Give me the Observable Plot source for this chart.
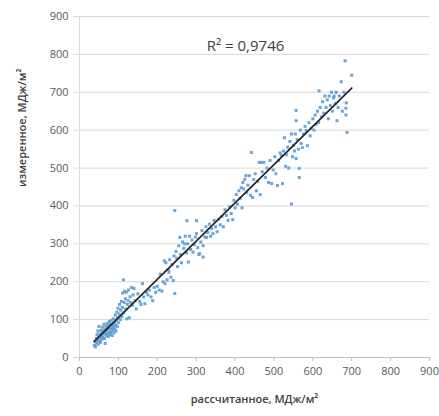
<!DOCTYPE html>
<html>
<head>
<meta charset="utf-8">
<script src="https://cdn.jsdelivr.net/npm/d3@7"></script>
<script src="https://cdn.jsdelivr.net/npm/@observablehq/plot@0.6"></script>
<style>
  html, body { margin: 0; padding: 0; background: #fff; }
  #chart svg { display: block; }
</style>
</head>
<body>
<div id="chart"></div>
<script>
// Tick labels
const xTicks = [0, 100, 200, 300, 400, 500, 600, 700, 800, 900];
const yTicks = [0, 100, 200, 300, 400, 500, 600, 700, 800, 900];
const xLabel = "рассчитанное, МДж/м²";
const yLabel = "измеренное, МДж/м²";
const r2Label = "R² = 0,9746";

// Calculated (x) values
const calc = [
  38,40,41,43,44,45,46,47,48,49,50,51,52,53,54,55,56,57,58,59,60,61,62,63,64,65,66,67,68,69,70,71,72,73,74,75,76,77,78,79,80,81,82,83,84,85,86,87,88,89,90,91,92,93,94,95,96,97,98,99,100,
  102,103,105,106,108,109,110,111,113,114,115,116,118,119,120,122,123,125,126,128,130,132,134,136,138,140,143,146,150,155,158,162,165,168,172,176,180,184,188,192,196,200,
  205,208,212,215,218,220,222,225,228,230,232,235,238,241,243,245,245,248,250,252,255,258,260,262,265,268,270,272,275,276,278,280,283,286,289,292,295,298,301,301,304,307,309,312,315,318,318,
  322,325,327,330,334,337,340,343,346,350,354,358,362,366,370,374,378,382,386,390,394,397,400,403,406,410,413,416,418,
  420,422,425,428,430,433,437,440,442,445,448,452,455,458,462,465,468,470,474,478,482,486,490,494,498,502,505,509,512,516,519,522,
  525,527,530,532,535,538,541,545,545,548,550,553,555,557,557,557,560,563,565,565,568,570,573,576,580,583,586,590,593,596,600,603,606,608,
  612,615,616,619,622,625,628,631,634,637,640,642,645,648,650,653,655,658,660,662,665,668,673,676,680,683,685,685,686,688,700
];
// Measured (y) values
const meas = [
  32,42,28,50,38,60,45,70,35,52,82,44,62,55,40,72,58,48,66,80,54,70,62,88,50,75,37,65,82,58,72,90,62,78,55,85,68,95,60,75,88,66,98,78,58,85,72,102,80,65,92,75,112,85,70,98,120,82,105,130,92,
  115,140,100,125,148,108,132,170,205,118,145,175,155,128,172,102,140,150,178,105,160,145,185,138,165,182,150,128,168,148,140,195,160,142,172,165,178,160,150,185,172,188,
  178,220,175,200,255,195,250,205,232,225,258,212,245,203,268,169,388,280,262,240,295,317,272,250,305,288,300,320,276,361,300,252,320,285,310,278,298,318,361,327,290,272,274,305,335,295,265,
  318,345,317,330,352,320,340,327,362,345,332,365,350,372,345,390,375,362,398,380,364,415,395,430,405,440,420,448,395,
  462,445,470,480,435,455,480,428,541,422,470,485,440,465,515,430,515,490,515,475,500,462,520,459,495,530,485,454,520,540,533,459,
  545,580,505,535,555,500,570,405,590,530,560,545,590,525,625,652,575,550,475,499,600,565,554,590,610,599,559,620,585,605,630,600,640,615,
  650,620,704,660,635,675,645,690,660,680,630,690,665,700,650,685,690,670,700,625,660,690,728,650,700,783,640,658,672,594,745
];

const data = calc.map((c, i) => ({calc: c, meas: meas[i]}));

const font = "'Open Sans', 'Liberation Sans', sans-serif";

const chart = Plot.plot({
  width: 439,
  height: 416,
  marginLeft: 79,
  marginRight: 10,
  marginTop: 16,
  marginBottom: 59,
  style: {fontFamily: font, background: "#fff"},
  x: {domain: [0, 900], axis: null},
  y: {domain: [0, 900], axis: null},
  marks: [
    Plot.gridY(yTicks, {stroke: "#d9d9d9", strokeOpacity: 1}),
    Plot.ruleX([0], {stroke: "#d9d9d9"}),
    Plot.ruleY([0], {stroke: "#bfbfbf"}),
    Plot.axisY(yTicks, {tickSize: 6, tickPadding: 5, stroke: "#d9d9d9", fill: "#595959", fontSize: 11, label: null}),
    Plot.axisX(xTicks, {tickSize: 4, tickPadding: 6, stroke: "#bfbfbf", fill: "#595959", fontSize: 11, label: null}),
    Plot.dot(data, {x: "calc", y: "meas", symbol: "square", r: 1.7, fill: "#5b9bd5", fillOpacity: 0.9, stroke: "none"}),
    Plot.linearRegressionY(data, {x: "calc", y: "meas", ci: 0, stroke: "#262626", strokeWidth: 1.75}),
    Plot.text([r2Label], {frameAnchor: "top", dx: -9, dy: 24, fontSize: 15, fill: "#404040"}),
    Plot.text([xLabel], {frameAnchor: "bottom", dy: 45, fontSize: 11, fontWeight: 600, fill: "#404040"}),
    Plot.text([yLabel], {frameAnchor: "left", dx: -57, rotate: -90, fontSize: 11, fontWeight: 600, fill: "#404040"})
  ]
});

document.getElementById("chart").appendChild(chart);
</script>
</body>
</html>
